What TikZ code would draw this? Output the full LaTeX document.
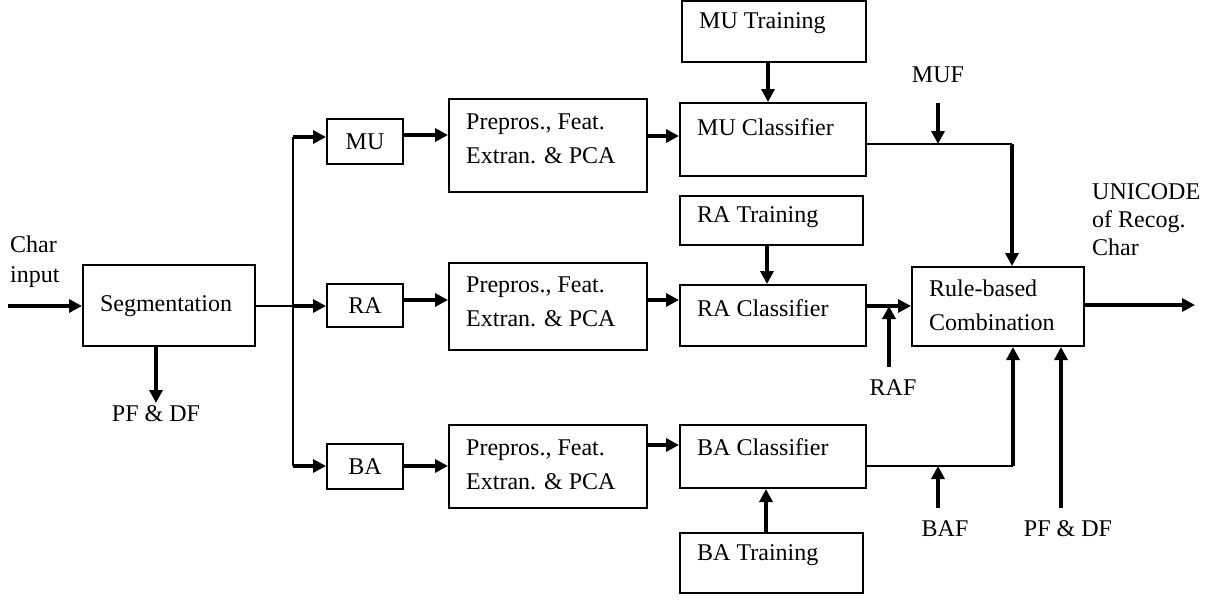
\documentclass[tikz,border=0pt]{standalone}
\usepackage{fontspec}
\setmainfont{Liberation Serif}
\usetikzlibrary{arrows.meta}
\begin{document}
\begin{tikzpicture}[x=1pt,y=-1pt,
  box/.style={draw, line width=2pt, inner sep=0pt},
  lbl/.style={font=\fontsize{24}{30}\selectfont, inner sep=0pt},
  two/.style={font=\fontsize{24}{34}\selectfont, inner sep=0pt, align=left},
  arr/.style={line width=3.6pt, -{Triangle[length=13pt,width=13pt]}},
  thinline/.style={line width=2pt}]
\fill[white] (0,0) rectangle (1208,600);
\useasboundingbox (0,0) rectangle (1208,600);

% boxes
\node[box, minimum width=172, minimum height=81] (seg) at (169,305.5) {};
\node[box, minimum width=76, minimum height=45] (mu) at (365,141.5) {};
\node[box, minimum width=76, minimum height=43] (ra) at (365,305.5) {};
\node[box, minimum width=76, minimum height=45] (ba) at (365,466.5) {};
\node[box, minimum width=198, minimum height=93] (pmu) at (548,145.5) {};
\node[box, minimum width=198, minimum height=87] (pra) at (548,306.5) {};
\node[box, minimum width=198, minimum height=83] (pba) at (548,466.5) {};
\node[box, minimum width=184, minimum height=61] (mut) at (774,31.5) {};
\node[box, minimum width=186, minimum height=73] (muc) at (773,139.5) {};
\node[box, minimum width=183, minimum height=49] (rat) at (771.5,220.5) {};
\node[box, minimum width=186, minimum height=61] (rac) at (773,315.5) {};
\node[box, minimum width=186, minimum height=63] (bac) at (773,456.5) {};
\node[box, minimum width=183, minimum height=60] (bat) at (771.5,563) {};
\node[box, minimum width=172, minimum height=79] (rule) at (998,306.5) {};

% texts
\node[lbl] (tseg) at (166,306) {Segmentation};
\node[lbl] (tmu) at (365,141.5) {MU};
\node[lbl] (tra) at (365,305.5) {RA};
\node[lbl] (tba) at (365,466.5) {BA};
\node[two, anchor=west] (tpmu) at (466,139) {Prepros., Feat.\\Extran. \& PCA};
\node[two, anchor=west] (tpra) at (466,301.5) {Prepros., Feat.\\Extran. \& PCA};
\node[two, anchor=west] (tpba) at (466,464.5) {Prepros., Feat.\\Extran. \& PCA};
\node[lbl, anchor=west] (tmut) at (699,23) {MU Training};
\node[lbl, anchor=west] (tmuc) at (697,127) {MU Classifier};
\node[lbl, anchor=west] (trat) at (697,217) {RA Training};
\node[lbl, anchor=west] (trac) at (697,308) {RA Classifier};
\node[lbl, anchor=west] (tbac) at (697,447) {BA Classifier};
\node[lbl, anchor=west] (tbat) at (697,555) {BA Training};
\node[two, anchor=west] (trule) at (929,305) {Rule-based\\Combination};
\node[lbl, align=left, anchor=west] (tchar) at (10,262) {Char\\input};
\node[lbl, align=left, anchor=west, font=\fontsize{24}{28}\selectfont] (tuni) at (1092,220) {UNICODE\\of Recog.\\Char};
\node[lbl] (tpf1) at (156,414) {PF \& DF};
\node[lbl] (tmuf) at (938,75) {MUF};
\node[lbl] (traf) at (893,388) {RAF};
\node[lbl] (tbaf) at (945,529) {BAF};
\node[lbl] (tpf2) at (1068,529) {PF \& DF};

% coordinates
\coordinate (cin) at (8,306);
\coordinate (bmu) at (293,137);
\coordinate (bra) at (293,306);
\coordinate (bba) at (293,466);
\coordinate (pf1) at (156,403);
\coordinate (mujoin) at (1012,144);
\coordinate (bajoin) at (1013,466);
\coordinate (mufs) at (938,103);
\coordinate (mufe) at (938,144);
\coordinate (rafs) at (889,367);
\coordinate (rafe) at (889,306);
\coordinate (bafs) at (938,508);
\coordinate (bafe) at (938,466);
\coordinate (pf2s) at (1061,508);
\coordinate (out) at (1195,305);

% connectors
\draw[arr] (cin) -- (cin -| seg.west);
\draw[arr] (seg.south -| pf1) -- (pf1);
\draw[thinline] (seg.east |- bra) -- (bra);
\draw[thinline] (bmu) -- (bba);
\draw[arr] (bmu) -- (bmu -| mu.west);
\draw[arr] (bra) -- (bra -| ra.west);
\draw[arr] (bba) -- (bba -| ba.west);

\draw[arr] (mu.east |- 0,135) -- (pmu.west |- 0,135);
\draw[arr] (ra.east |- 0,300) -- (pra.west |- 0,300);
\draw[arr] (ba.east |- 0,466) -- (pba.west |- 0,466);

\draw[arr] (pmu.east |- 0,136) -- (muc.west |- 0,136);
\draw[arr] (pra.east |- 0,300) -- (rac.west |- 0,300);
\draw[arr] (pba.east |- 0,445) -- (bac.west |- 0,445);

\draw[arr] (mut.south -| 768,0) -- (muc.north -| 768,0);
\draw[arr] (rat.south -| 767,0) -- (rac.north -| 767,0);
\draw[arr] (bat.north -| 766,0) -- (bac.south -| 766,0);

\draw[thinline] (muc.east |- mujoin) -- (mujoin);
\draw[arr] (mujoin) -- (mujoin |- rule.north);
\draw[arr] (mufs) -- (mufe);

\draw[arr] (rac.east |- rafe) -- (rule.west |- rafe);
\draw[arr] (rafs) -- (rafe);

\draw[thinline] (bac.east |- bajoin) -- (bajoin);
\draw[arr] (bajoin) -- (bajoin |- rule.south);
\draw[arr] (bafs) -- (bafe);
\draw[arr] (pf2s) -- (pf2s |- rule.south);

\draw[arr] (rule.east |- out) -- (out);
\end{tikzpicture}
\end{document}
